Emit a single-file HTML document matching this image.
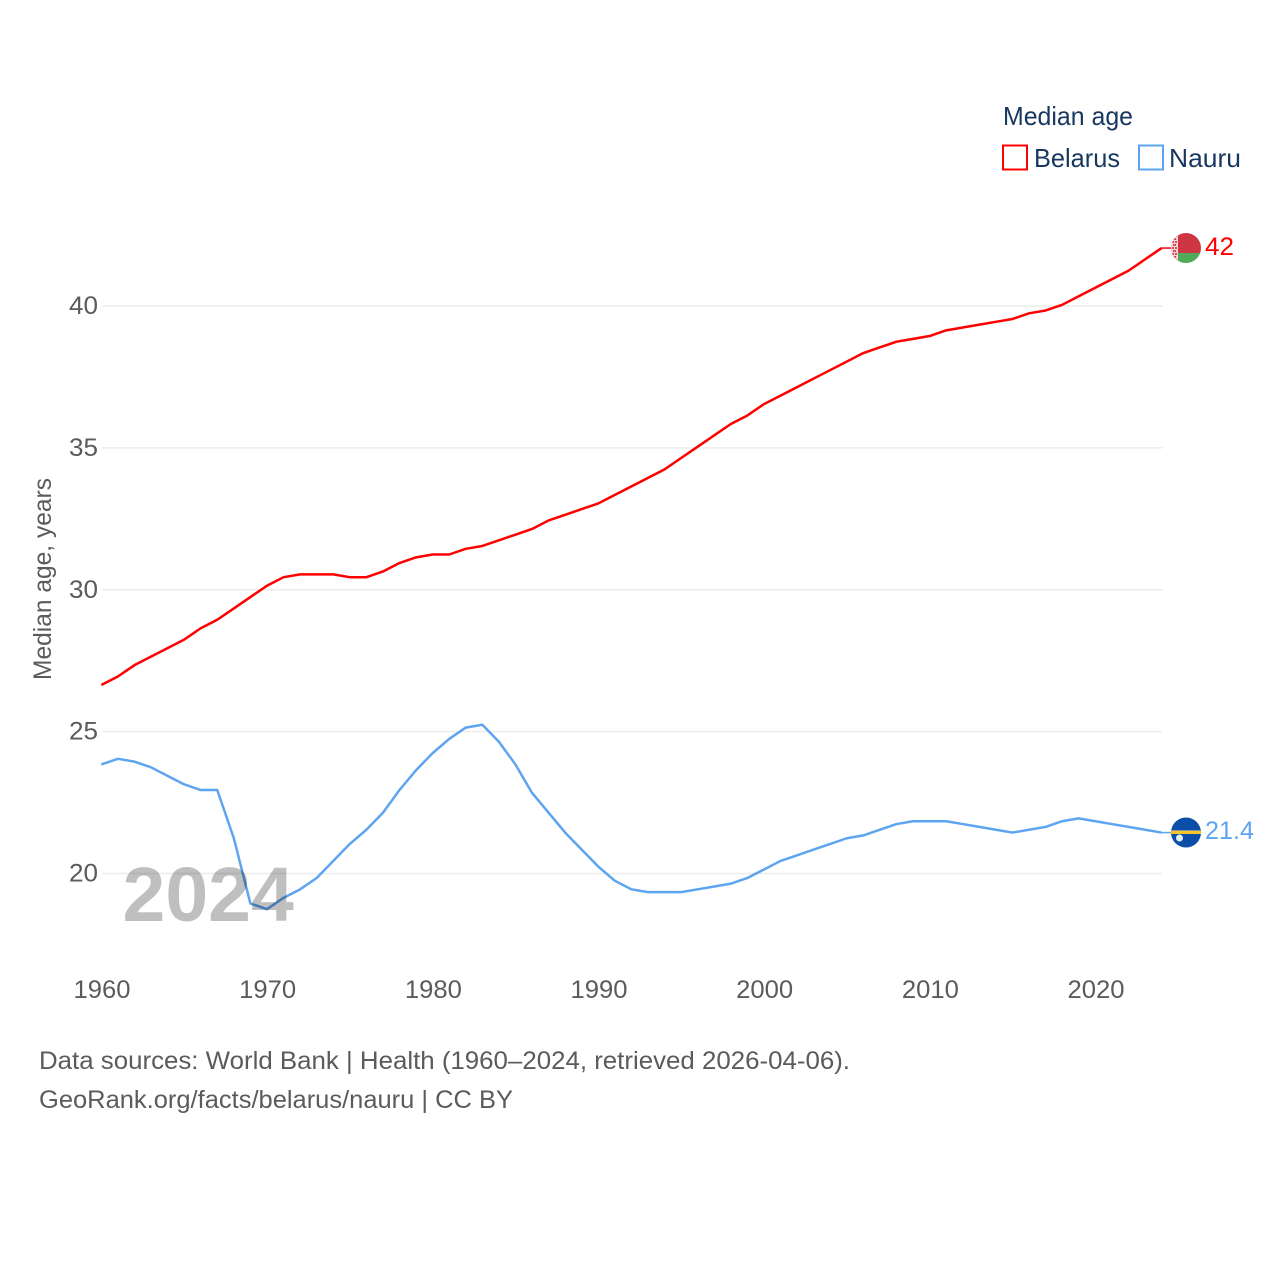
<!DOCTYPE html>
<html lang="en">
<head>
<meta charset="utf-8">
<title>Median age: Belarus and Nauru</title>
<style>
html,body{margin:0;padding:0;background:#fff;width:1280px;height:1280px;overflow:hidden}
svg{display:block}
text{font-family:"Liberation Sans",sans-serif}
</style>
</head>
<body>
<svg id="chart" xmlns="http://www.w3.org/2000/svg" width="1280" height="1280" viewBox="0 0 1280 1280">
  <rect width="1280" height="1280" fill="#fff"/>
  <g id="grid"></g>
  <g id="yticks"></g>
  <g id="xticks"></g>
  <text transform="translate(51,680) rotate(-90)" font-size="25" fill="#5b5b5b" textLength="202" lengthAdjust="spacingAndGlyphs">Median age, years</text>
  <g id="series"></g>
  <text x="122.5" y="921" font-size="77" font-weight="700" fill="#000" fill-opacity="0.25">2024</text>

  <g id="flag-belarus">
    <clipPath id="clip-by"><circle cx="1186" cy="248" r="15"/></clipPath>
    <g clip-path="url(#clip-by)">
      <rect x="1171" y="233" width="30" height="20" fill="#ce3644"/>
      <rect x="1171" y="253" width="30" height="11" fill="#51a95a"/>
      <rect x="1171" y="233" width="7" height="31" fill="#f3d3d6"/>
      <g fill="#d4515d">
        <rect x="1172" y="235" width="2" height="2"/><rect x="1175" y="235" width="2" height="2"/>
        <rect x="1173" y="238" width="3" height="2"/><rect x="1172" y="241" width="2" height="2"/>
        <rect x="1175" y="241" width="2" height="2"/><rect x="1173" y="244" width="3" height="2"/>
        <rect x="1172" y="247" width="2" height="2"/><rect x="1175" y="247" width="2" height="2"/>
        <rect x="1173" y="250" width="3" height="2"/><rect x="1172" y="253" width="2" height="2"/>
        <rect x="1175" y="253" width="2" height="2"/><rect x="1173" y="256" width="3" height="2"/>
        <rect x="1175" y="259" width="2" height="2"/>
      </g>
    </g>
  </g>
  <g id="flag-nauru">
    <clipPath id="clip-nr"><circle cx="1186" cy="832.5" r="15"/></clipPath>
    <g clip-path="url(#clip-nr)">
      <rect x="1171" y="817" width="30" height="31" fill="#0b4ea8"/>
      <rect x="1171" y="831" width="30" height="3" fill="#f5c52e"/>
      <rect x="1171" y="830" width="30" height="1" fill="#8a93a0"/>
    </g>
    <circle cx="1179.5" cy="838" r="3.5" fill="#e8eef8"/>
  </g>

  <text id="label-belarus" x="1205" y="255" font-size="25" fill="#ff0000" textLength="29" lengthAdjust="spacingAndGlyphs"></text>
  <text id="label-nauru" x="1205" y="839" font-size="25" fill="#5da5f0" textLength="49" lengthAdjust="spacingAndGlyphs"></text>

  <g>
    <text x="1003" y="125" font-size="26" fill="#18375f" textLength="130" lengthAdjust="spacingAndGlyphs">Median age</text>
    <g>
      <rect x="1003" y="145.5" width="24" height="24" fill="#fff" stroke="#ff0000" stroke-width="2"/>
      <text x="1034" y="167" font-size="26" fill="#18375f" textLength="86" lengthAdjust="spacingAndGlyphs">Belarus</text>
    </g>
    <g>
      <rect x="1139" y="145.5" width="24" height="24" fill="#fff" stroke="#5da5f0" stroke-width="2"/>
      <text x="1169" y="167" font-size="26" fill="#18375f" textLength="72" lengthAdjust="spacingAndGlyphs">Nauru</text>
    </g>
  </g>

  <text x="39" y="1069" font-size="25" fill="#5b5b5b" textLength="811" lengthAdjust="spacingAndGlyphs">Data sources: World Bank | Health (1960–2024, retrieved 2026-04-06).</text>
  <text x="39" y="1108" font-size="25" fill="#5b5b5b" textLength="474" lengthAdjust="spacingAndGlyphs">GeoRank.org/facts/belarus/nauru | CC BY</text>
</svg>
<script>
const years = [1960,1961,1962,1963,1964,1965,1966,1967,1968,1969,1970,1971,1972,1973,1974,1975,1976,1977,1978,1979,1980,1981,1982,1983,1984,1985,1986,1987,1988,1989,1990,1991,1992,1993,1994,1995,1996,1997,1998,1999,2000,2001,2002,2003,2004,2005,2006,2007,2008,2009,2010,2011,2012,2013,2014,2015,2016,2017,2018,2019,2020,2021,2022,2023,2024];
const belarusValues = [26.6,26.9,27.3,27.6,27.9,28.2,28.6,28.9,29.3,29.7,30.1,30.4,30.5,30.5,30.5,30.4,30.4,30.6,30.9,31.1,31.2,31.2,31.4,31.5,31.7,31.9,32.1,32.4,32.6,32.8,33.0,33.3,33.6,33.9,34.2,34.6,35.0,35.4,35.8,36.1,36.5,36.8,37.1,37.4,37.7,38.0,38.3,38.5,38.7,38.8,38.9,39.1,39.2,39.3,39.4,39.5,39.7,39.8,40.0,40.3,40.6,40.9,41.2,41.6,42.0];
const nauruValues = [23.8,24.0,23.9,23.7,23.4,23.1,22.9,22.9,21.2,18.9,18.7,19.1,19.4,19.8,20.4,21.0,21.5,22.1,22.9,23.6,24.2,24.7,25.1,25.2,24.6,23.8,22.8,22.1,21.4,20.8,20.2,19.7,19.4,19.3,19.3,19.3,19.4,19.5,19.6,19.8,20.1,20.4,20.6,20.8,21.0,21.2,21.3,21.5,21.7,21.8,21.8,21.8,21.7,21.6,21.5,21.4,21.5,21.6,21.8,21.9,21.8,21.7,21.6,21.5,21.4];
const yTickValues = [20,25,30,35,40];
const xTickValues = [1960,1970,1980,1990,2000,2010,2020];

const NS = 'http://www.w3.org/2000/svg';
function xScale(year){ return 102 + (year - 1960) * (1096 - 102) / 60; }
function yScale(v){ return 873.5 - (v - 20) * (873.5 - 306) / 20; }
function lineX(year){ return xScale(year) - 0.7; }
function lineY(v){ return yScale(v) - 1.2; }

const grid = document.getElementById('grid');
const yticks = document.getElementById('yticks');
const xticks = document.getElementById('xticks');
const seriesGroup = document.getElementById('series');

yTickValues.forEach(function(v){
  const line = document.createElementNS(NS, 'line');
  
  
  line.setAttribute('x1', xScale(1960));
  line.setAttribute('x2', xScale(2024));
  line.setAttribute('y1', yScale(v));
  line.setAttribute('y2', yScale(v));
  line.setAttribute('stroke', '#ececec');
  line.setAttribute('stroke-width', '1.5');
  grid.appendChild(line);

  const t = document.createElementNS(NS, 'text');
  
  
  t.setAttribute('x', 98);
  t.setAttribute('y', yScale(v) + 8);
  t.setAttribute('text-anchor', 'end');
  t.setAttribute('font-size', '25');
  t.setAttribute('textLength', '29');
  t.setAttribute('lengthAdjust', 'spacingAndGlyphs');
  t.setAttribute('fill', '#5b5b5b');
  t.textContent = v;
  yticks.appendChild(t);
});

xTickValues.forEach(function(yr){
  const t = document.createElementNS(NS, 'text');
  
  
  t.setAttribute('x', xScale(yr));
  t.setAttribute('y', 998);
  t.setAttribute('text-anchor', 'middle');
  t.setAttribute('font-size', '25');
  t.setAttribute('textLength', '57');
  t.setAttribute('lengthAdjust', 'spacingAndGlyphs');
  t.setAttribute('fill', '#5b5b5b');
  t.textContent = yr;
  xticks.appendChild(t);
});

function drawSeries(values, color){
  let d = '';
  values.forEach(function(v, i){
    d += (i ? 'L' : 'M') + lineX(years[i]).toFixed(2) + ' ' + lineY(v).toFixed(2);
  });
  const last = values[values.length - 1];
  const lastYear = years[years.length - 1];

  const path = document.createElementNS(NS, 'path');
  
  
  path.setAttribute('d', d);
  path.setAttribute('fill', 'none');
  path.setAttribute('stroke', color);
  path.setAttribute('stroke-width', '2.5');
  path.setAttribute('stroke-linejoin', 'round');
  seriesGroup.appendChild(path);

  const conn = document.createElementNS(NS, 'line');
  
  
  conn.setAttribute('x1', lineX(lastYear));
  conn.setAttribute('x2', lineX(lastYear) + 10);
  conn.setAttribute('y1', lineY(last));
  conn.setAttribute('y2', lineY(last));
  conn.setAttribute('stroke', color);
  conn.setAttribute('stroke-width', '1.5');
  seriesGroup.appendChild(conn);
}
drawSeries(belarusValues, '#ff0000');
drawSeries(nauruValues, '#5da5f0');

document.getElementById('label-belarus').textContent = belarusValues[belarusValues.length - 1];
document.getElementById('label-nauru').textContent = nauruValues[nauruValues.length - 1];
</script>
</body>
</html>
